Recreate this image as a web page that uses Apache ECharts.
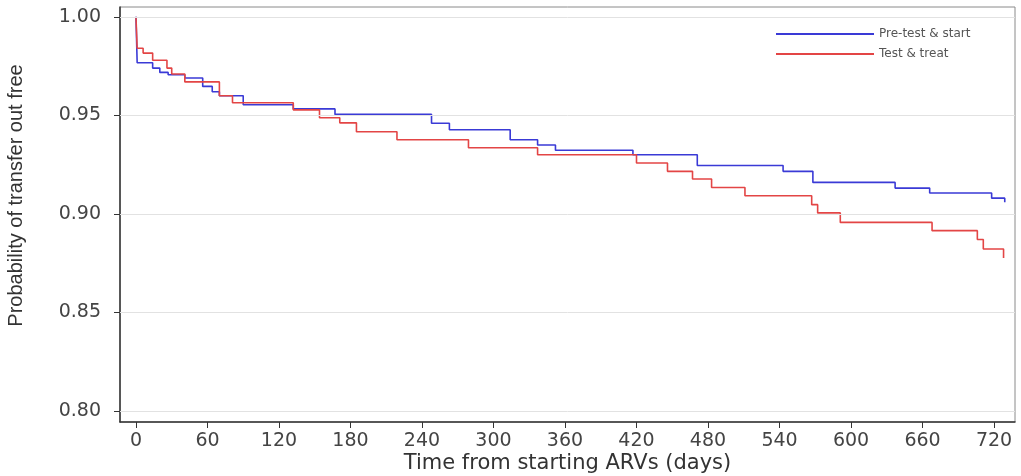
<!DOCTYPE html>
<html>
<head>
<meta charset="utf-8">
<script src="https://cdn.jsdelivr.net/npm/echarts@6/dist/echarts.min.js"></script>
<style>
html,body{margin:0;padding:0;background:#fff;}
#chart{width:1021px;height:476px;}
</style>
</head>
<body>
<div id="chart"></div>
<script>
// ---- data ----
const seriesNames = ['Pre-test & start', 'Test & treat'];
const preDays = [0, 1, 14, 20, 27, 41, 56, 64, 70, 90, 132, 167, 248, 263, 314, 337, 352, 417, 471, 543, 568, 637, 666, 718, 729];
const preSurv = [1.0, 0.9767, 0.974, 0.9718, 0.9706, 0.969, 0.9647, 0.962, 0.960, 0.9554, 0.9533, 0.9505, 0.946, 0.9427, 0.9376, 0.935, 0.9323, 0.930, 0.9246, 0.9216, 0.916, 0.9131, 0.9106, 0.908, 0.9059];
const ttDays = [0, 1, 6, 14, 26, 30, 41, 70, 81, 132, 154, 171, 185, 219, 279, 337, 420, 446, 467, 483, 511, 567, 572, 591, 668, 706, 711, 728];
const ttSurv = [1.0, 0.9841, 0.9816, 0.978, 0.974, 0.971, 0.967, 0.960, 0.9564, 0.9528, 0.9488, 0.9462, 0.9417, 0.9376, 0.9336, 0.930, 0.9258, 0.9216, 0.9177, 0.9134, 0.9092, 0.9047, 0.9005, 0.8957, 0.8915, 0.887, 0.8822, 0.8776];
const xTicks = [0, 60, 120, 180, 240, 300, 360, 420, 480, 540, 600, 660, 720];
const yTicks = [0.80, 0.85, 0.90, 0.95, 1.00];
const xRange = [-13.4, 737.6];
const yRange = [0.7944, 1.005];

const zip = (a, b) => a.map((v, i) => [v, b[i]]);
const tickFont = 'DejaVu Sans';

const chart = echarts.init(document.getElementById('chart'), null, {renderer: 'canvas'});
chart.setOption({
  backgroundColor: '#ffffff',
  animation: false,
  grid: {left: 120, right: 6, top: 7, bottom: 54, containLabel: false, outerBoundsMode: 'none', show: true, borderColor: '#8a8a8a', borderWidth: 1, backgroundColor: 'transparent'},
  legend: {
    data: seriesNames,
    orient: 'vertical',
    left: 771, top: 23,
    icon: 'rect',
    itemWidth: 98, itemHeight: 2, itemGap: 8,
    textStyle: {fontFamily: tickFont, fontSize: 12, color: '#555'}
  },
  xAxis: {
    type: 'value',
    min: xRange[0], max: xRange[1],
    name: 'Time from starting ARVs (days)',
    nameLocation: 'middle', nameGap: 31, nameMoveOverlap: false,
    nameTextStyle: {fontFamily: tickFont, fontSize: 21, color: '#333'},
    axisLine: {show: true, onZero: false, lineStyle: {color: '#333', width: 1.5}},
    axisTick: {show: true, inside: false, length: 6, customValues: xTicks, lineStyle: {color: '#333'}},
    axisLabel: {customValues: xTicks, margin: 10, fontFamily: tickFont, fontSize: 19, color: '#444'},
    splitLine: {show: false}
  },
  yAxis: {
    type: 'value',
    min: yRange[0], max: yRange[1],
    name: 'Probability of transfer out free',
    nameLocation: 'middle', nameGap: 94, nameRotate: 90, nameMoveOverlap: false,
    nameTextStyle: {fontFamily: 'Liberation Sans, sans-serif', fontSize: 20, color: '#333', padding: [0, 0, 0, 38]},
    axisLine: {show: true, onZero: false, lineStyle: {color: '#333', width: 1.5}},
    axisTick: {show: true, inside: false, length: 6, customValues: yTicks, lineStyle: {color: '#333'}},
    axisLabel: {customValues: yTicks, margin: 19, fontFamily: tickFont, fontSize: 19, color: '#444', formatter: v => v.toFixed(2)},
    splitLine: {show: false}
  },
  series: [
    {
      type: 'line', data: [], z: 1, silent: true,
      markLine: {
        silent: true, symbol: ['none', 'none'], label: {show: false},
        lineStyle: {color: '#e2e2e2', width: 1, type: 'solid'},
        data: yTicks.map(v => ({yAxis: v}))
      }
    },
    {
      name: seriesNames[0], type: 'line', step: 'end', z: 3,
      data: zip(preDays, preSurv), symbol: 'none', showSymbol: false,
      lineStyle: {color: '#3a3ad6', width: 1.6}, itemStyle: {color: '#3a3ad6'}
    },
    {
      name: seriesNames[1], type: 'line', step: 'end', z: 4,
      data: zip(ttDays, ttSurv), symbol: 'none', showSymbol: false,
      lineStyle: {color: '#e34545', width: 1.6}, itemStyle: {color: '#e34545'}
    }
  ]
});
</script>
</body>
</html>
